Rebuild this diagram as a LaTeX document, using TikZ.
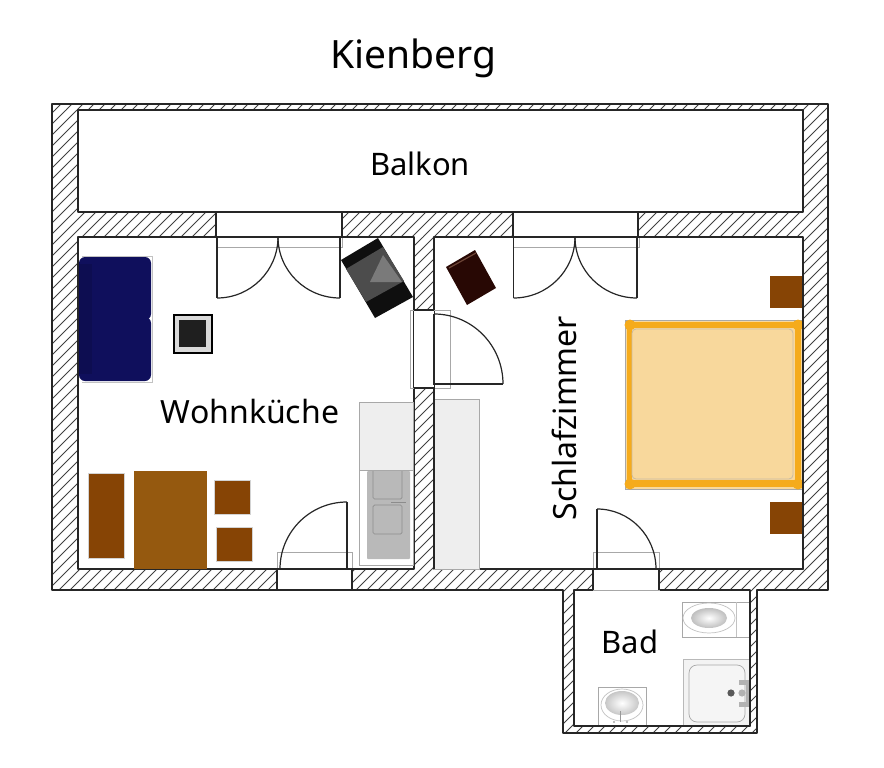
\documentclass[tikz,border=0pt]{standalone}
\usepackage{fontspec}
\setmainfont{Noto Sans}
\usetikzlibrary{calc}
\definecolor{wallc}{HTML}{262626}
\definecolor{hatchc}{HTML}{404040}
\definecolor{grayl}{HTML}{A8A8A8}
\definecolor{navy}{HTML}{0F0F5C}
\definecolor{browna}{HTML}{864405}
\definecolor{brownb}{HTML}{95590F}
\definecolor{bedo}{HTML}{F5AB1C}
\definecolor{bedi}{HTML}{F8D89C}
\definecolor{lgray}{HTML}{EEEEEE}
\definecolor{appl}{HTML}{B9B9B9}
\tikzset{
  wallline/.style={draw=wallc,line width=1.5pt,line join=round},
  jamb/.style={draw=wallc,line width=1.1pt},
  hatchline/.style={draw=hatchc,line width=1pt},
  opening/.style={fill=white,draw=none},
  doorline/.style={draw=wallc,line width=1.2pt},
  ghost/.style={draw=grayl,line width=1pt},
  sanit/.style={fill=white,draw=grayl,line width=1pt},
  label/.style={inner sep=0pt,text=black},
}
\newcommand{\swing}[2]{\draw[doorline] (#1) .. controls ($(#1)!.5523!(#2|-#1)$) and ($(#2)!.5523!(#2|-#1)$) .. (#2);}
\newcommand{\hatchrect}[4]{%
  \begin{scope}
    \clip (#1,#2) rectangle (#3,#4);
    \pgfmathtruncatemacro{\ka}{(#1+#2)/11}
    \pgfmathtruncatemacro{\kb}{(#3+#4)/11+1}
    \foreach \k in {\ka,...,\kb} {
      \pgfmathsetmacro{\xa}{\k*11-#2}
      \pgfmathsetmacro{\xb}{\k*11-#4}
      \draw[hatchline] (\xa,#2) -- (\xb,#4);
    }
  \end{scope}}
\newcommand{\wallpath}{(52,104) -- (828,104) -- (828,590) -- (757,590) -- (757,733) -- (563,733) -- (563,590) -- (52,590) -- cycle
  (78,110) rectangle (803,212)
  (78,237) rectangle (414,569)
  (434,237) rectangle (803,569)
  (574,590) rectangle (750,726)}
\begin{document}
\begin{tikzpicture}[x=1pt,y=-1pt]
\useasboundingbox (0,0) rectangle (884,768);
% walls
\hatchrect{52}{104}{828}{110}
\hatchrect{52}{110}{78}{590}
\hatchrect{803}{110}{828}{590}
\hatchrect{78}{212}{803}{237}
\hatchrect{414}{237}{434}{569}
\hatchrect{78}{569}{803}{590}
\hatchrect{563}{590}{574}{733}
\hatchrect{750}{590}{757}{733}
\hatchrect{574}{726}{750}{733}
\draw[wallline,even odd rule] \wallpath;
% openings in walls
\fill[opening] (216,212) rectangle (342,237);
\fill[opening] (513,212) rectangle (638,237);
\fill[opening] (414,310) rectangle (434,388);
\fill[opening] (277,569) rectangle (352,590);
\fill[opening] (593,569) rectangle (659,590);
% door frames (ghost outlines)
\draw[ghost] (217,247) -- (342,247) -- (342,238);
\draw[ghost] (514,247) -- (639,247) -- (639,238);
\draw[ghost] (410,310) rectangle (450,388);
\draw[ghost] (277,552) rectangle (352,590);
\draw[ghost] (593,552) rectangle (659,590);
% jambs
\draw[jamb] (216,212) rectangle (342,237);
\draw[jamb] (513,212) rectangle (638,237);
\draw[jamb] (414,310) -- (434,310) (414,388) -- (434,388);
\draw[jamb] (277,590) -- (277,569) -- (352,569) -- (352,590) -- cycle;
\draw[jamb] (593,590) -- (593,569) -- (659,569) -- (659,590);
% door leaves
\coordinate (d1a) at (217,298); \coordinate (d1m) at (278,237); \coordinate (d1b) at (340,298);
\draw[doorline] (217,237) -- (d1a) (340,237) -- (d1b);
\swing{d1a}{d1m}\swing{d1b}{d1m}
\coordinate (d2a) at (513.5,298); \coordinate (d2m) at (575,237); \coordinate (d2b) at (637,298);
\draw[doorline] (513.5,237) -- (d2a) (637,237) -- (d2b);
\swing{d2a}{d2m}\swing{d2b}{d2m}
\coordinate (d3a) at (434,314); \coordinate (d3b) at (503,384);
\draw[doorline] (434,314) -- (434,384) -- (d3b);
\swing{d3a}{d3b}
\coordinate (d4a) at (347,502); \coordinate (d4b) at (280,569);
\draw[doorline] (d4a) -- (347,569);
\swing{d4a}{d4b}
\coordinate (d5a) at (597,509); \coordinate (d5b) at (656,569);
\draw[doorline] (d5a) -- (597,569);
\swing{d5a}{d5b}
% sofa
\draw[draw=grayl!70,line width=.6pt] (82,256) -- (152,256) -- (152,382) -- (82,382);
\fill[navy,rounded corners=6pt] (79,257) rectangle (151,320);
\fill[navy,rounded corners=6pt] (79,317) rectangle (151,381);
\fill[navy!88!black] (79,264) rectangle (92,374);
% low table
\draw[draw=black,line width=1.5pt,fill=lgray!70!grayl] (174,315) rectangle (212,353);
\fill[black!88] (179,320) rectangle (206,347);
% armchair
\fill[black!94] (378,238) -- (413,297) -- (375,318) -- (341,260) -- cycle;
\fill[black!70] (346,269) -- (383,247) -- (404,281) -- (366,302) -- cycle;
\fill[black!52] (383,255) -- (402,282) -- (370,282) -- cycle;
% bedroom side table
\fill[fill={rgb,255:red,40;green,8;blue,4}] (475,250) -- (496,288) -- (467,305) -- (446,267) -- cycle;
\draw[draw={rgb,255:red,110;green,70;blue,55},line width=1.2pt] (449,268) -- (476,253);
% kitchen
\draw[draw=grayl,fill=lgray,line width=1pt] (359,402) rectangle (413,470);
\draw[draw=grayl,fill=white,line width=1pt] (359,470) rectangle (413,565);
\fill[appl,rounded corners=1pt] (367,471) rectangle (410,559);
\draw[draw=black!45,line width=.7pt,rounded corners=1.5pt] (373,471) -- (373,499) -- (402,499) -- (402,471);
\draw[draw=black!45,line width=.7pt,rounded corners=1.5pt] (373,505) rectangle (402,534);
\draw[draw=black!45,line width=1pt] (391,502) -- (406,502);
% wardrobe
\draw[draw=grayl,fill=lgray,line width=1pt] (434,399) rectangle (479,569);
% dining set
\fill[brownb] (134,471) rectangle (207,569);
\draw[draw=grayl!50,line width=.5pt,fill=browna] (88.5,473) rectangle (124,558);
\draw[draw=grayl!50,line width=.5pt,fill=browna] (214,480) rectangle (250,514);
\draw[draw=grayl!50,line width=.5pt,fill=browna] (216,527) rectangle (252,561);
% bed
\draw[draw=grayl,line width=.8pt,fill=bedi] (625,320) rectangle (802,489);
\fill[bedo] (627,322) rectangle (801,328);
\fill[bedo] (627,480) rectangle (801,487);
\fill[bedo] (627,322) rectangle (632,487);
\fill[bedo] (795,322) rectangle (801,487);
\foreach \p in {(630,325),(798,325),(630,484),(798,484)} {\fill[bedo] \p circle (5.5);}
\draw[draw=grayl!60!bedi,fill=bedi,line width=.8pt,rounded corners=4pt] (632,329) rectangle (793,479);
% bedside tables
\fill[browna] (770,276) rectangle (803,308);
\fill[browna] (770,502) rectangle (803,534);
% WC
\draw[sanit] (682,602) rectangle (750,637);
\draw[draw=grayl!70,line width=.7pt] (736,602) -- (736,637);
\draw[draw=grayl!70,fill=white,line width=.7pt] (709,618) ellipse (26 and 15);
\shade[inner color=white,outer color=black!25] (709,618) ellipse (18 and 10);
% shower
\draw[draw=grayl!80,fill=lgray!70,line width=1pt] (683,659) rectangle (750,726);
\draw[draw=grayl,fill=white!96!black,line width=.7pt,rounded corners=8pt] (689,665) rectangle (745,722);
\fill[black!65] (731,693) circle (3.6);
\fill[black!30] (742,693) circle (3.6);
\fill[black!30] (739,680) rectangle (750,685);
\fill[black!30] (739,702) rectangle (750,707);
\fill[black!30] (746,680) rectangle (750,707);
% sink
\draw[sanit] (598,687) rectangle (646,726);
\draw[draw=grayl!70,line width=.7pt] (622,705) ellipse (21 and 16);
\shade[inner color=white,outer color=black!22] (622,703) ellipse (17 and 12);
\draw[draw=black!40,line width=1pt] (620.5,711) -- (620.5,722);
\fill[black!35] (614,722) circle (1.2) (627,722) circle (1.2);
% room walls re-inked where furniture touches
\draw[wallline] (803,237) -- (803,569) -- (659,569) (750,590) -- (750,726) -- (574,726);
\draw[wallline] (414,237) -- (414,310) (434,388) -- (434,569);
% labels
\node[label,font=\fontsize{39}{44}\selectfont] (title) at (413,58) {Kienberg};
\node[label,font=\fontsize{31}{36}\selectfont] (balkon) at (420,164) {Balkon};
\node[label,font=\fontsize{32}{36}\selectfont] (wohn) at (250,411) {Wohnküche};
\node[label,font=\fontsize{32}{36}\selectfont,rotate=90] (schlaf) at (564.5,418) {Schlafzimmer};
\node[label,font=\fontsize{31}{36}\selectfont] (bad) at (630,642) {Bad};
\end{tikzpicture}
\end{document}
